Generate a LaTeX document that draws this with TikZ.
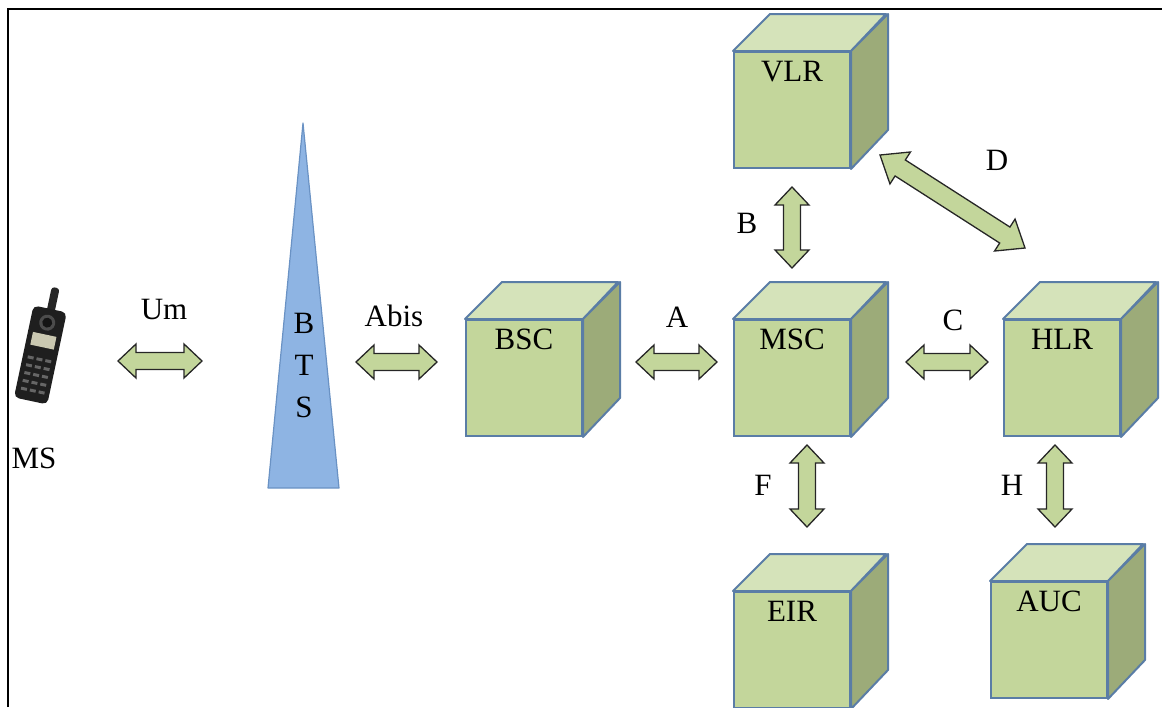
\documentclass[tikz,border=0pt]{standalone}
\usepackage{fontspec}
\setmainfont{Liberation Serif}
\usetikzlibrary{
    calc,
    positioning
}
\definecolor{cubefront}{HTML}{C3D69B}
\definecolor{cubetop}{HTML}{D5E3BA}
\definecolor{cubeside}{HTML}{9CAB79}
\definecolor{cubeedge}{HTML}{5A7DA6}
\definecolor{btsfill}{HTML}{8EB4E3}
\definecolor{btsedge}{HTML}{6A92C4}
\definecolor{arrowfill}{HTML}{C3D69B}

\tikzset{
  cube/.style = {
      rectangle,
      draw=cubeedge,
      line width=2pt,
      fill=cubefront,
      minimum width=116pt,
      inner sep=0pt,
      text height=29pt,
      text depth=87pt,
      font=\fontsize{31}{36}\selectfont
  },
  face/.style = {
      draw=cubeedge,
      line width=2pt,
      line join=round
  },
  iface/.style = {
      draw=black!85,
      line width=1.3pt,
      fill=arrowfill,
      line join=miter
  },
  tag/.style = {
      inner sep=0pt,
      font=\fontsize{31}{36}\selectfont
  }
}

% double block arrow between two points
\newcommand{\blockarrow}[5]{%
  \draw[iface] (#1)
    -- ($(#1)!#3!(#2)!#4!90:(#2)$) -- ($(#1)!#3!(#2)!#5!90:(#2)$)
    -- ($(#2)!#3!(#1)!#5!-90:(#1)$) -- ($(#2)!#3!(#1)!#4!-90:(#1)$)
    -- (#2)
    -- ($(#2)!#3!(#1)!#4!90:(#1)$) -- ($(#2)!#3!(#1)!#5!90:(#1)$)
    -- ($(#1)!#3!(#2)!#5!-90:(#2)$) -- ($(#1)!#3!(#2)!#4!-90:(#2)$)
    -- cycle;
}
\newcommand{\iarrow}[2]{\blockarrow{#1}{#2}{18pt}{17pt}{8.5pt}}

\begin{document}
\begin{tikzpicture}[x=1pt, y=-1pt]
    \useasboundingbox (0,0) rectangle (1162,707);
    % frame
    \draw[line width=2.5pt] (8,707) -- (8,9) -- (1162,9);

    % Nodes
    \node[cube] (bsc) at (524,378) {BSC};
    \node[cube, right=150pt of bsc] (msc) {MSC};
    \node[cube, right=152pt of msc] (hlr) {HLR};
    \node[cube, above=150pt of msc] (vlr) {VLR};
    \node[cube, below=154pt of msc] (eir) {EIR};
    \node[cube, below=144pt of hlr, xshift=-13pt] (auc) {AUC};

    % top and side of every cube
    \foreach \c in {bsc, msc, hlr, vlr, eir, auc} {
        \draw[face, fill=cubetop] (\c.north west) -- ++(37,-37) -- ++(116,0)
            -- (\c.north east) -- cycle;
        \draw[face, fill=cubeside] (\c.north east) -- ++(37,-37) -- ++(0,116)
            -- (\c.south east) -- cycle;
    }

    % base station mast
    \draw[btsedge, fill=btsfill, line width=1.2pt, line join=round]
        (268,488) -- (303,123) -- (339,488) -- cycle;
    \node[tag, align=center, font=\fontsize{31}{42}\selectfont] (bts) at (304,365) {B\\T\\S};

    % handset
    \begin{scope}[shift={(41,352)}, rotate=-12]
        \fill[black!85, rounded corners=3pt] (-3,-66) rectangle (5,-40);
        \fill[black!88, rounded corners=5pt] (-17,-44) rectangle (17,50);
        \fill[black!70] (0,-30) circle (8pt);
        \fill[black!92] (0,-30) circle (5pt);
        \fill[yellow!20!gray!60] (-12,-18) rectangle (12,-5);
        \foreach \r in {0,...,4}
            \foreach \k in {-1,0,1}
                \fill[black!60] (\k*9-3,6+\r*8) rectangle (\k*9+3,9+\r*8);
    \end{scope}
    \node[tag] (ms) at (34,458) {MS};

    % Edges
    \coordinate (umL) at (118,361);   \coordinate (umR) at (202,361);
    \coordinate (abL) at (356,362);   \coordinate (abR) at (437,362);
    \coordinate (aL) at (636,362);    \coordinate (aR) at (717,362);
    \coordinate (cL) at (906,362);    \coordinate (cR) at (988,362);
    \coordinate (bT) at (792,187);    \coordinate (bB) at (792,268);
    \coordinate (fT) at (807,445);    \coordinate (fB) at (807,527);
    \coordinate (hT) at (1055,445);   \coordinate (hB) at (1055,527);
    \coordinate (dT) at (880,155);    \coordinate (dB) at (1025,248);

    \iarrow{umL}{umR}
    \iarrow{abL}{abR}
    \iarrow{aL}{aR}
    \iarrow{cL}{cR}
    \iarrow{bT}{bB}
    \iarrow{fT}{fB}
    \iarrow{hT}{hB}
    \blockarrow{dT}{dB}{24pt}{19pt}{9.5pt}

    % interface names
    \node[tag] at (164,309) {Um};
    \node[tag] at (394,316) {Abis};
    \node[tag] at (677,317) {A};
    \node[tag] at (953,320) {C};
    \node[tag] at (747,223) {B};
    \node[tag] at (997,160) {D};
    \node[tag] at (763,485) {F};
    \node[tag] at (1012,485) {H};
\end{tikzpicture}
\end{document}
